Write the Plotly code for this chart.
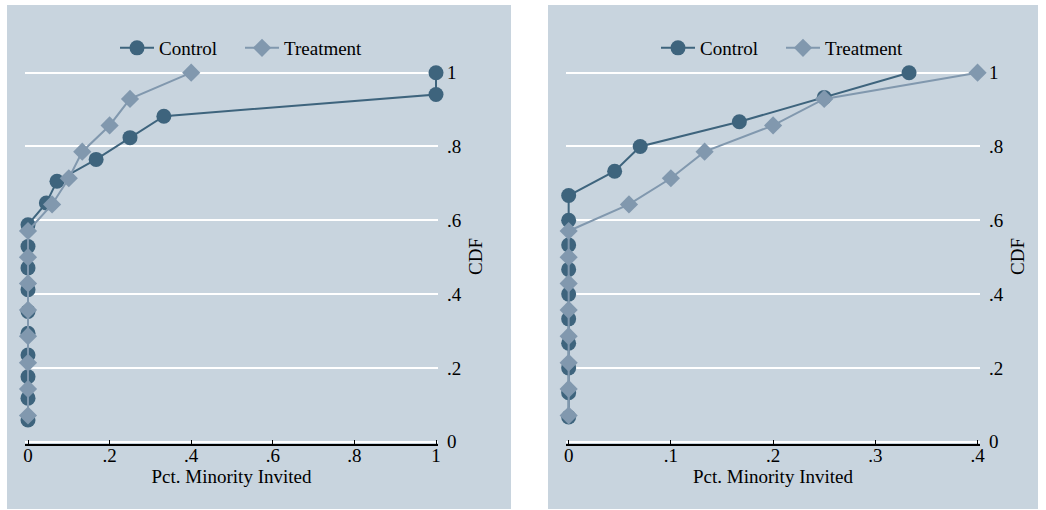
import plotly.graph_objects as go

# ---- data ----
left_control_x = [0, 0, 0, 0, 0, 0, 0, 0, 0, 0, 0.045, 0.071, 0.167, 0.25, 0.333, 1.0, 1.0]
left_control_y = [0.059, 0.118, 0.176, 0.235, 0.294, 0.353, 0.412, 0.471, 0.529, 0.588,
                  0.647, 0.706, 0.765, 0.824, 0.882, 0.941, 1.0]
left_treat_x = [0, 0, 0, 0, 0, 0, 0, 0, 0.059, 0.1, 0.133, 0.2, 0.25, 0.4]
left_treat_y = [0.071, 0.143, 0.214, 0.286, 0.357, 0.429, 0.5, 0.571,
                0.643, 0.714, 0.786, 0.857, 0.929, 1.0]

right_control_x = [0, 0, 0, 0, 0, 0, 0, 0, 0, 0, 0.045, 0.07, 0.167, 0.25, 0.333]
right_control_y = [0.067, 0.133, 0.2, 0.267, 0.333, 0.4, 0.467, 0.533, 0.6, 0.667,
                   0.733, 0.8, 0.867, 0.933, 1.0]
right_treat_x = [0, 0, 0, 0, 0, 0, 0, 0, 0.059, 0.1, 0.133, 0.2, 0.25, 0.4]
right_treat_y = [0.071, 0.143, 0.214, 0.286, 0.357, 0.429, 0.5, 0.571,
                 0.643, 0.714, 0.786, 0.857, 0.929, 1.0]

series_names = ["Control", "Treatment"]
left_xticks = [0, 0.2, 0.4, 0.6, 0.8, 1.0]
left_xticklabels = ["0", ".2", ".4", ".6", ".8", "1"]
right_xticks = [0, 0.1, 0.2, 0.3, 0.4]
right_xticklabels = ["0", ".1", ".2", ".3", ".4"]
yticks = [0, 0.2, 0.4, 0.6, 0.8, 1.0]
yticklabels = ["0", ".2", ".4", ".6", ".8", "1"]
x_title = "Pct. Minority Invited"
y_title = "CDF"

# ---- style ----
W, H = 1046, 510
BG = "#C8D4DE"
C_CTRL = "#3E647D"
C_TREAT = "#8198AE"
FONT = "Liberation Serif"
FS = 19

fig = go.Figure()


def add_pair(cx, cy, tx, ty, xa, ya, leg):
    fig.add_trace(go.Scatter(
        x=cx, y=cy, mode="lines+markers", name=series_names[0],
        line=dict(color=C_CTRL, width=2),
        marker=dict(symbol="circle", size=15, color=C_CTRL),
        xaxis=xa, yaxis=ya, legend=leg, cliponaxis=False))
    fig.add_trace(go.Scatter(
        x=tx, y=ty, mode="lines+markers", name=series_names[1],
        line=dict(color=C_TREAT, width=2),
        marker=dict(symbol="diamond", size=14, color=C_TREAT),
        xaxis=xa, yaxis=ya, legend=leg, cliponaxis=False))


add_pair(left_control_x, left_control_y, left_treat_x, left_treat_y, "x", "y", "legend")
add_pair(right_control_x, right_control_y, right_treat_x, right_treat_y, "x2", "y2", "legend2")

# panel backgrounds
for x0, x1 in [(7, 511), (548, 1038)]:
    fig.add_shape(type="rect", xref="paper", yref="paper",
                  x0=x0 / W, x1=x1 / W, y0=1 - 509 / H, y1=1 - 5 / H,
                  fillcolor=BG, line=dict(width=0), layer="below")

ydom = [1 - 444 / H, 1 - 69 / H]
yrange = [-0.0062, 1.010]

xcommon = dict(showgrid=False, zeroline=False, showline=True, linecolor="black",
               linewidth=1.5, ticks="inside", ticklen=4, tickcolor="black",
               tickwidth=1, ticklabelstandoff=-7,
               tickfont=dict(family=FONT, size=FS, color="black"),
               title=dict(text=x_title, font=dict(family=FONT, size=FS, color="black"),
                          standoff=2))
ycommon = dict(side="right", showgrid=True, gridcolor="white", gridwidth=1.5,
               zeroline=False, showline=False, ticks="", ticklabelstandoff=8,
               tickvals=yticks, ticktext=yticklabels, range=yrange, domain=ydom,
               tickfont=dict(family=FONT, size=FS, color="black"),
               title=dict(text=y_title, font=dict(family=FONT, size=FS, color="black"),
                          standoff=7))

legcommon = dict(orientation="h", xanchor="center", y=1 - 48 / H, yanchor="middle",
                 bgcolor="rgba(0,0,0,0)", entrywidth=76, entrywidthmode="pixels",
                 itemwidth=34,
                 font=dict(family=FONT, size=FS, color="black"))

fig.update_layout(
    width=W, height=H, autosize=False,
    margin=dict(l=0, r=0, t=0, b=0, pad=0, autoexpand=False),
    paper_bgcolor="white", plot_bgcolor=BG,
    font=dict(family=FONT, size=FS, color="black"),
    xaxis=dict(domain=[25 / W, 438 / W], range=[-0.00735, 1.0049], anchor="y",
               tickvals=left_xticks, ticktext=left_xticklabels, **xcommon),
    yaxis=dict(anchor="x", **ycommon),
    xaxis2=dict(domain=[566 / W, 980 / W], range=[-0.0026, 0.4024], anchor="y2",
                tickvals=right_xticks, ticktext=right_xticklabels, **xcommon),
    yaxis2=dict(anchor="x2", **ycommon),
    legend=dict(x=240 / W, **legcommon),
    legend2=dict(x=781 / W, **legcommon),
)

fig.write_html("out.html", config={"displayModeBar": False},
               post_script="document.body.style.margin='0';")
